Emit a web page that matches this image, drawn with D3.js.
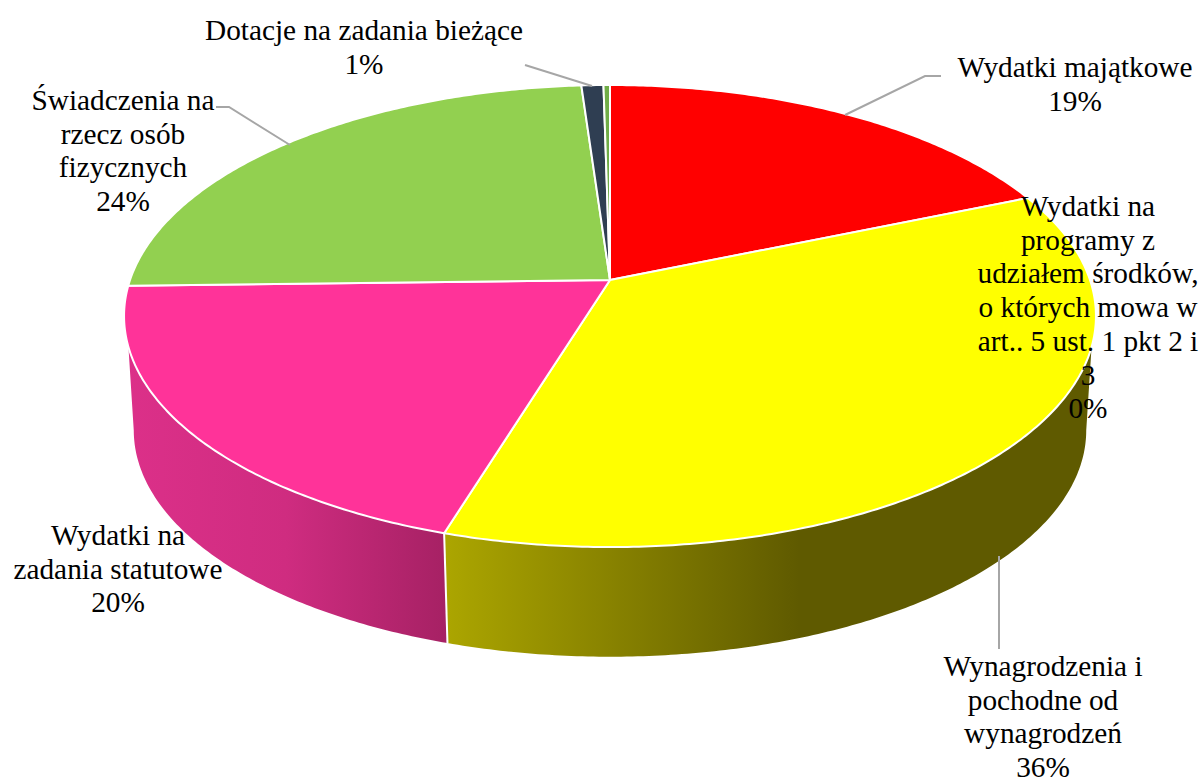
<!DOCTYPE html>
<html><head><meta charset="utf-8">
<script src="https://cdnjs.cloudflare.com/ajax/libs/d3/7.8.5/d3.min.js"></script>
<style>html,body{margin:0;padding:0;background:#fff;overflow:hidden}svg{display:block}</style>
</head><body><svg id="c" width="1201" height="778"></svg>
<script>
// data (clockwise from 12 o'clock)
const categories = ["Wydatki majątkowe","Wynagrodzenia i pochodne od wynagrodzeń","Wydatki na zadania statutowe","Świadczenia na rzecz osób fizycznych","Dotacje na zadania bieżące","Wydatki na programy z udziałem środków, o których mowa w art.. 5 ust. 1 pkt 2 i 3"];
const shares = [18.7,36.05,19.85,24.3,0.85,0.25];
const percentLabels = ["19%","36%","20%","24%","1%","0%"];
const labelLines = [
 ["Wydatki majątkowe"],
 ["Wynagrodzenia i","pochodne od","wynagrodzeń"],
 ["Wydatki na","zadania statutowe"],
 ["Świadczenia na","rzecz osób","fizycznych"],
 ["Dotacje na zadania bieżące"],
 ["Wydatki na","programy z","udziałem środków,","o których mowa w","art.. 5 ust. 1 pkt 2 i","3"]
];
const topColors = ["#ff0000","#ffff00","#ff3399","#92d050","#2f3e52","#70ad47"];
const sideColors = ["#800000","url(#gy)","url(#gp)","#4a6828","#18202a","#385724"];

// geometry
const deg=Math.PI/180;
const cx=610, cy=280, a=480, b=225.4, k=0.156, wallScale=0.98, wallCy=395;
const topLimits=[106.5*deg,253.5*deg], bottomLimits=[99*deg,261*deg];
const labelPos = [[1075,77],[1043,676],[118,545],[123,110],[364,40],[1088,216]];
const lineH = 33.7;
const leaders = [
 [[941,76],[925,76],[845,115]],
 [[999,556],[999,649]],
 null,
 [[216,107],[229,107],[290,145]],
 [[525,65],[592,86]],
 null
];

const svg=d3.select("#c");
const defs=svg.append("defs");
function grad(id,x1,x2,stops){
  const g=defs.append("linearGradient").attr("id",id).attr("gradientUnits","userSpaceOnUse")
    .attr("x1",x1).attr("x2",x2).attr("y1",0).attr("y2",0);
  stops.forEach(s=>g.append("stop").attr("offset",s[0]).attr("stop-color",s[1]));
}
grad("gy",444,1090,[[0,"#aca600"],[0.55,"#5f5a00"],[1,"#5f5a00"]]);
grad("gp",125,447,[[0,"#dc3089"],[0.5,"#cf2c80"],[1,"#a62164"]]);

const arcs=d3.pie().sort(null).value(d=>d)(shares);
function project(t,s,y0){
  const u=Math.sin(t), v=Math.cos(t), w=1+k*v;
  return [cx+s*a*u/w, y0-s*b*v/w];
}
function rim(t0,t1,s,y0){
  const n=Math.max(2,Math.ceil((t1-t0)/0.01));
  return d3.range(n+1).map(i=>project(t0+(t1-t0)*i/n,s,y0));
}
const line=d3.line();

// walls – only the front of the rim is visible
arcs.forEach((d,i)=>{
  if(d.endAngle<=topLimits[0]||d.startAngle>=topLimits[1]) return;
  const top=rim(Math.max(d.startAngle,topLimits[0]),Math.min(d.endAngle,topLimits[1]),1,cy);
  const bot=rim(Math.max(d.startAngle,bottomLimits[0]),Math.min(d.endAngle,bottomLimits[1]),wallScale,wallCy);
  svg.append("path").attr("d",line(top.concat(bot.reverse()))+"Z").attr("fill",sideColors[i]);
});
// wall divider
arcs.forEach(d=>{
  if(d.startAngle>topLimits[0]&&d.startAngle<topLimits[1]){
    svg.append("path").attr("d",line([project(d.startAngle,1,cy),project(d.startAngle,wallScale,wallCy)]))
      .attr("stroke","#fff").attr("stroke-width",2).attr("fill","none");
  }
});
// top slices
arcs.forEach((d,i)=>{
  const pts=[[cx,cy]].concat(rim(d.startAngle,d.endAngle,1,cy));
  svg.append("path").attr("d",line(pts)+"Z").attr("fill",topColors[i])
    .attr("stroke","#fff").attr("stroke-width",2).attr("stroke-linejoin","round");
});
// leaders
leaders.forEach(l=>{ if(l) svg.append("path").attr("d",line(l)).attr("fill","none")
  .attr("stroke","#a6a6a6").attr("stroke-width",2); });
// labels
categories.forEach((c,i)=>{
  const t=svg.append("text").attr("text-anchor","middle").attr("fill","#000")
    .style("font-family","'Liberation Serif','Times New Roman',serif").style("font-size","29.3px");
  labelLines[i].concat(percentLabels[i]).forEach((s,j)=>{
    t.append("tspan").attr("x",labelPos[i][0]).attr("y",labelPos[i][1]+j*lineH).text(s);
  });
});
</script></body></html>
